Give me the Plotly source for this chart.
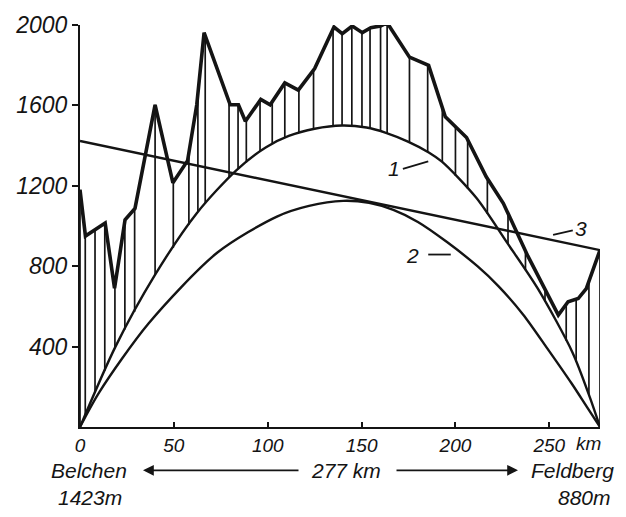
import numpy as np
import plotly.graph_objects as go

# --- data (km along section, height in m) ---
profile_km = [0, 2.9, 13.4, 18.4, 24.0, 29.3, 40.0, 49.5, 57.3, 62.2, 66.1, 80.0, 84.4,
              88.1, 96.3, 101.3, 109.1, 116.3, 125.0, 135.3, 139.7, 145.0, 150.4, 154.9,
              160.1, 163.6, 175.5, 185.7, 194.6, 205.9, 216.4, 225.5, 238.6, 254.8, 260.0,
              265.4, 269.7, 274.2, 277]
profile_m = [1180, 950, 1015, 690, 1031, 1088, 1603, 1215, 1325, 1603, 1962, 1603, 1603,
             1521, 1630, 1603, 1712, 1676, 1783, 1990, 1957, 1995, 1962, 1987,
             1995, 2011, 1840, 1799, 1543, 1440, 1245, 1113, 850, 557, 623,
             639, 688, 800, 880]

curve1_km = [0, 18.9, 39.7, 62.2, 83.1, 98.9, 111.2, 125.0, 139.6, 152.6, 162.6, 174.7,
             185.8, 192.8, 211.1, 227.5, 243.9, 262.4, 271.7, 277]
curve1_m = [0, 400, 753, 1064, 1276, 1391, 1448, 1484, 1500, 1490, 1465, 1420,
            1366, 1320, 1140, 917, 688, 370, 145, 0]

curve2_km = [0, 10.4, 36.5, 73.2, 104.9, 122.0, 140.2, 154.0, 166.9, 180.0, 195.5, 211.7,
             223.0, 236.0, 249.0, 262.0, 270.0, 277]
curve2_m = [0, 175, 515, 868, 1047, 1100, 1125, 1115, 1080, 1020, 920, 800,
            700, 560, 390, 215, 100, 0]

line3_km = [0, 277]
line3_m = [1423, 880]

hatch_km = [0, 2.8, 8.0, 13.2, 18.6, 23.9, 29.1, 40.0, 49.7, 58.0, 62.8, 66.7, 79.4, 84.2,
            88.6, 95.9, 102.4, 109.1, 116.6, 124.4, 134.8, 139.6, 144.8, 150.2, 154.5,
            160.1, 163.6, 175.5, 185.2, 193.0, 200.0, 206.5, 217.0, 228.0, 237.3, 247.7,
            259.0, 264.3, 271.1, 277]

x_ticks = [0, 50, 100, 150, 200, 250]
y_ticks = [400, 800, 1200, 1600, 2000]

# --- build hatch segments between profile and curve 1 ---
h_top = np.interp(hatch_km, profile_km, profile_m)
h_bot = np.interp(hatch_km, curve1_km, curve1_m)
hx, hy = [], []
for xv, a, b in zip(hatch_km, h_top, h_bot):
    hx += [xv, xv, None]
    hy += [a, b, None]

INK = "#141414"
FONT = "Liberation Sans"

fig = go.Figure()
fig.add_trace(go.Scatter(x=hx, y=hy, mode="lines", line=dict(color=INK, width=1.7),
                         cliponaxis=False, hoverinfo="skip"))
fig.add_trace(go.Scatter(x=curve2_km, y=curve2_m, mode="lines",
                         line=dict(color=INK, width=2.4, shape="spline", smoothing=0.8),
                         cliponaxis=False))
fig.add_trace(go.Scatter(x=curve1_km, y=curve1_m, mode="lines",
                         line=dict(color=INK, width=2.4, shape="spline", smoothing=0.8),
                         cliponaxis=False))
fig.add_trace(go.Scatter(x=line3_km, y=line3_m, mode="lines",
                         line=dict(color=INK, width=2.4), cliponaxis=False))
fig.add_trace(go.Scatter(x=profile_km, y=profile_m, mode="lines",
                         line=dict(color=INK, width=3.6), cliponaxis=False))

# curve labels with short leader dashes
labels = [("1", 167.5, 1284, 172, 1284, 185.5, 1322),
          ("2", 177.0, 853, 185.5, 858, 197.5, 858),
          ("3", 267.0, 990, 252.0, 956, 262.5, 978)]
for t, lx, ly, x0, y0, x1, y1 in labels:
    fig.add_annotation(x=lx, y=ly, text=t, showarrow=False,
                       xanchor="center", yanchor="middle",
                       font=dict(family=FONT, size=21, color=INK, style="italic"))
    fig.add_shape(type="line", x0=x0, y0=y0, x1=x1, y1=y1,
                  line=dict(color=INK, width=1.8))

# bottom texts (pixel positions mapped to paper coordinates)
def pa(px):
    return (px - 80) / 520.0

def pb(py):
    return (427 - py) / 408.0

bt = dict(family=FONT, size=21, color=INK, style="italic")
bottom = [("Belchen", 89, 471), ("1423m", 90, 499), ("277 km", 346, 471),
          ("Feldberg", 572, 471), ("880m", 584, 499)]
for t, px, py in bottom:
    fig.add_annotation(xref="paper", yref="paper", x=pa(px), y=pb(py), text=t,
                       showarrow=False, xanchor="center", yanchor="middle", font=bt)
fig.add_annotation(xref="paper", yref="paper", x=pa(588), y=pb(444), text="km",
                   showarrow=False, xanchor="center", yanchor="middle",
                   font=dict(family=FONT, size=19, color=INK, style="italic"))
# arrows
fig.add_annotation(xref="paper", yref="paper", x=pa(143), y=pb(471), ax=157, ay=0,
                   text="", showarrow=True, arrowhead=2, arrowsize=1.2, arrowwidth=1.8,
                   arrowcolor=INK)
fig.add_annotation(xref="paper", yref="paper", x=pa(518), y=pb(471), ax=-123, ay=0,
                   text="", showarrow=True, arrowhead=2, arrowsize=1.2, arrowwidth=1.8,
                   arrowcolor=INK)

fig.update_layout(
    width=626, height=517,
    margin=dict(l=80, r=26, t=19, b=90),
    paper_bgcolor="white", plot_bgcolor="white",
    showlegend=False,
    font=dict(family=FONT, color=INK),
    xaxis=dict(range=[0, 277], showgrid=False, zeroline=False, showline=True,
               linecolor=INK, linewidth=2.2, tickmode="array", tickvals=x_ticks,
               ticktext=[str(v) for v in x_ticks], ticks="inside", ticklen=5,
               tickwidth=1.5, tickcolor=INK,
               tickfont=dict(family=FONT, size=19, color=INK, style="italic")),
    yaxis=dict(range=[0, 2000], showgrid=False, zeroline=False, showline=True,
               linecolor=INK, linewidth=2.2, tickmode="array", tickvals=y_ticks,
               ticktext=[str(v) for v in y_ticks], ticks="outside", ticklen=6,
               tickwidth=2, tickcolor=INK,
               tickfont=dict(family=FONT, size=23, color=INK, style="italic")),
)

fig.write_html("out.html")
